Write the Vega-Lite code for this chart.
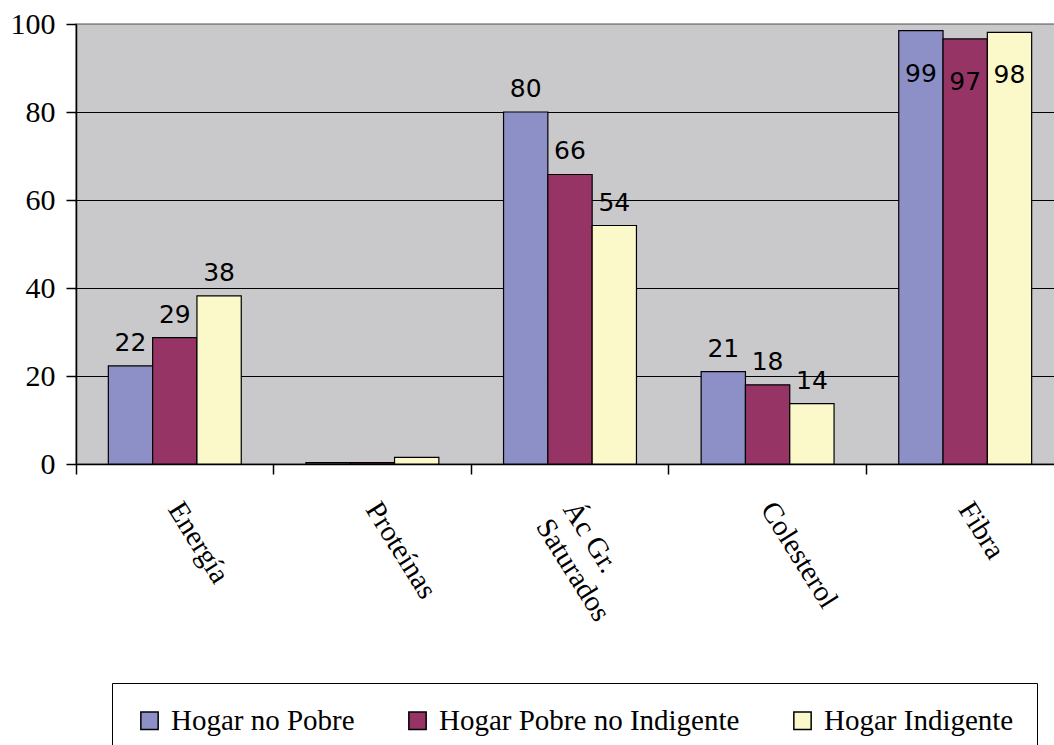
{
  "$schema": "https://vega.github.io/schema/vega-lite/v6.json",
  "autosize": "none",
  "padding": {"left": 76, "top": 24, "right": 0, "bottom": 281},
  "width": 988,
  "height": 440,
  "background": "white",
  "config": {
    "view": {"fill": "#C9C9CB", "stroke": "#8a8a8a", "strokeWidth": 1.5},
    "font": "Liberation Serif"
  },
  "data": {
    "values": [
      {"nutriente": "Energía", "hogar": "Hogar no Pobre", "valor": 22.3},
      {"nutriente": "Energía", "hogar": "Hogar Pobre no Indigente", "valor": 28.7},
      {"nutriente": "Energía", "hogar": "Hogar Indigente", "valor": 38.2},
      {"nutriente": "Proteínas", "hogar": "Hogar no Pobre", "valor": 0.3},
      {"nutriente": "Proteínas", "hogar": "Hogar Pobre no Indigente", "valor": 0.3},
      {"nutriente": "Proteínas", "hogar": "Hogar Indigente", "valor": 1.5},
      {"nutriente": "Ác Gr. Saturados", "hogar": "Hogar no Pobre", "valor": 80},
      {"nutriente": "Ác Gr. Saturados", "hogar": "Hogar Pobre no Indigente", "valor": 65.8},
      {"nutriente": "Ác Gr. Saturados", "hogar": "Hogar Indigente", "valor": 54.2},
      {"nutriente": "Colesterol", "hogar": "Hogar no Pobre", "valor": 21},
      {"nutriente": "Colesterol", "hogar": "Hogar Pobre no Indigente", "valor": 18},
      {"nutriente": "Colesterol", "hogar": "Hogar Indigente", "valor": 13.7},
      {"nutriente": "Fibra", "hogar": "Hogar no Pobre", "valor": 98.5},
      {"nutriente": "Fibra", "hogar": "Hogar Pobre no Indigente", "valor": 96.6},
      {"nutriente": "Fibra", "hogar": "Hogar Indigente", "valor": 98.1}
    ]
  },
  "encoding": {
    "x": {
      "field": "nutriente",
      "type": "nominal",
      "sort": ["Energía", "Proteínas", "Ác Gr. Saturados", "Colesterol", "Fibra"],
      "scale": {"paddingInner": 0, "paddingOuter": 0},
      "axis": {
        "title": null,
        "bandPosition": 0,
        "labelAngle": 58,
        "labelAlign": "left",
        "labelBaseline": "middle",
        "labelPadding": 30,
        "labelFont": "Liberation Serif",
        "labelFontSize": 29,
        "labelColor": "black",
        "labelExpr": "datum.value == 'Ác Gr. Saturados' ? ['Ác Gr.', 'Saturados'] : datum.label",
        "labelLineHeight": 32,
        "labelLimit": 300,
        "tickColor": "black",
        "tickSize": 10,
        "domainColor": "black",
        "domainWidth": 1.5,
        "tickWidth": 1.5,
        "grid": false
      }
    },
    "xOffset": {
      "field": "hogar",
      "type": "nominal",
      "sort": ["Hogar no Pobre", "Hogar Pobre no Indigente", "Hogar Indigente"],
      "scale": {"paddingInner": 0, "paddingOuter": 0.73}
    },
    "y": {
      "field": "valor",
      "type": "quantitative",
      "scale": {"domain": [0, 100], "nice": false},
      "axis": {
        "title": null,
        "values": [0, 20, 40, 60, 80, 100],
        "labelFont": "Liberation Serif",
        "labelFontSize": 30,
        "labelColor": "black",
        "labelPadding": 11,
        "tickSize": 10,
        "tickColor": "black",
        "tickWidth": 1.5,
        "domainColor": "black",
        "domainWidth": 1.5,
        "grid": true,
        "gridColor": {"condition": {"test": "datum.value == 100", "value": "#8a8a8a"}, "value": "black"},
        "gridOpacity": 1,
        "gridWidth": 1.2
      }
    }
  },
  "layer": [
    {
      "mark": {"type": "bar", "stroke": "black", "strokeWidth": 1.2},
      "encoding": {
        "color": {
          "field": "hogar",
          "type": "nominal",
          "sort": ["Hogar no Pobre", "Hogar Pobre no Indigente", "Hogar Indigente"],
          "scale": {
            "domain": ["Hogar no Pobre", "Hogar Pobre no Indigente", "Hogar Indigente"],
            "range": ["#8D90C7", "#963565", "#FBF8CA"]
          },
          "legend": {
            "title": null,
            "orient": "none",
            "legendX": 36,
            "legendY": 659,
            "direction": "horizontal",
            "columns": 3,
            "columnPadding": 48,
            "symbolType": "square",
            "symbolSize": 300,
            "symbolStrokeColor": "black",
            "symbolStrokeWidth": 1.5,
            "labelFont": "Liberation Serif",
            "labelFontSize": 29,
            "labelColor": "black",
            "labelOffset": 7,
            "labelLimit": 400,
            "strokeColor": "black",
            "padding": 23,
            "fillColor": "white"
          }
        }
      }
    },
    {
      "transform": [{"filter": "datum.valor > 5 && datum.valor < 90"}],
      "mark": {"type": "text", "font": "DejaVu Sans", "fontSize": 25, "baseline": "alphabetic", "dy": -15, "color": "black"},
      "encoding": {"text": {"field": "valor", "type": "quantitative", "format": ".0f"}}
    },
    {
      "transform": [{"filter": "datum.valor >= 90"}],
      "mark": {"type": "text", "font": "DejaVu Sans", "fontSize": 25, "baseline": "middle", "dy": 43, "color": "black"},
      "encoding": {"text": {"field": "valor", "type": "quantitative", "format": ".0f"}}
    }
  ]
}
